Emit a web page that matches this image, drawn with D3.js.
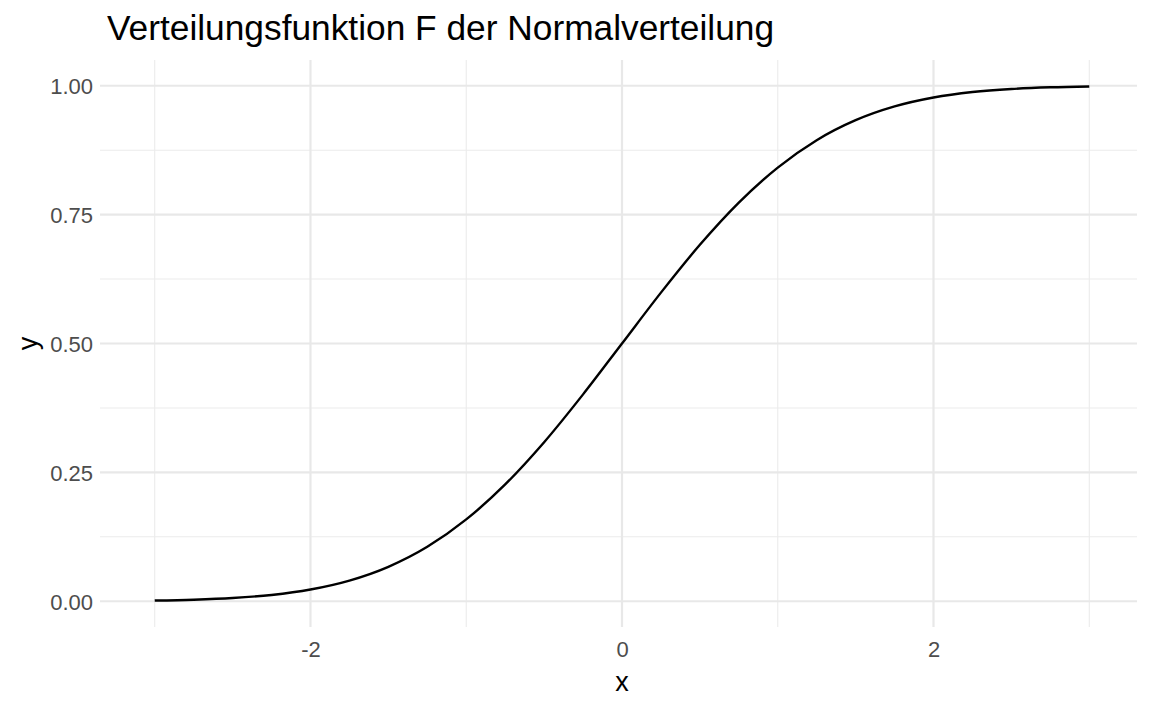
<!DOCTYPE html>
<meta charset="utf-8">
<head>
  <style>
    body { margin: 0; background: #fff; }
    text { font-family: "Liberation Sans", Arial, sans-serif; }
  </style>
</head>
<body>
<script src="https://cdnjs.cloudflare.com/ajax/libs/d3/7.8.5/d3.min.js"></script>
<script>

// Values
const xValues = [-3, -2.75, -2.5, -2.25, -2, -1.75, -1.5, -1.25, -1, -0.75, -0.5, -0.25,
  0, 0.25, 0.5, 0.75, 1, 1.25, 1.5, 1.75, 2, 2.25, 2.5, 2.75, 3];
const yValues = [0.0013, 0.003, 0.0062, 0.0122, 0.0228, 0.0401, 0.0668, 0.1056, 0.1587, 0.2266, 0.3085, 0.4013,
  0.5, 0.5987, 0.6915, 0.7734, 0.8413, 0.8944, 0.9332, 0.9599, 0.9772, 0.9878, 0.9938, 0.997, 0.9987];
const xTicks = [-2, 0, 2];
const xTickLabels = ["-2", "0", "2"];
const xMinor = [-3, -1, 1, 3];
const yTicks = [0, 0.25, 0.5, 0.75, 1];
const yTickLabels = ["0.00", "0.25", "0.50", "0.75", "1.00"];
const yMinor = [0.125, 0.375, 0.625, 0.875];

const title = "Verteilungsfunktion F der Normalverteilung";

const W = 1152, H = 711;
const panel = {left: 100, right: 1137, top: 60, bottom: 627};

const x = d3.scaleLinear().domain([-3.3, 3.3]).range([panel.left + 8, panel.right - 1]);
const y = d3.scaleLinear().domain([-0.05, 1.05]).range([panel.bottom, panel.top]);

const svg = d3.select("body").append("svg")
  .attr("width", W)
  .attr("height", H);

const data = xValues.map((d, i) => ({x: d, y: yValues[i]}));

// minor grid
svg.append("g").selectAll("line")
  .data(xMinor).join("line")
    .attr("x1", d => x(d)).attr("x2", d => x(d))
    .attr("y1", panel.top).attr("y2", panel.bottom)
    .attr("stroke", "#ebebeb").attr("stroke-width", 1.1);
svg.append("g").selectAll("line")
  .data(yMinor).join("line")
    .attr("x1", panel.left).attr("x2", panel.right)
    .attr("y1", d => y(d)).attr("y2", d => y(d))
    .attr("stroke", "#ebebeb").attr("stroke-width", 1.1);

// major grid
svg.append("g").selectAll("line")
  .data(xTicks).join("line")
    .attr("x1", d => x(d)).attr("x2", d => x(d))
    .attr("y1", panel.top).attr("y2", panel.bottom)
    .attr("stroke", "#e8e8e8").attr("stroke-width", 2.2);
svg.append("g").selectAll("line")
  .data(yTicks).join("line")
    .attr("x1", panel.left).attr("x2", panel.right)
    .attr("y1", d => y(d)).attr("y2", d => y(d))
    .attr("stroke", "#e8e8e8").attr("stroke-width", 2.2);

// axis labels
const xAxis = d3.axisBottom(x).tickValues(xTicks).tickSize(0).tickPadding(0)
  .tickFormat((d, i) => xTickLabels[i]);
const gx = svg.append("g")
  .attr("transform", "translate(0,657)")
  .call(xAxis);
gx.select(".domain").remove();
gx.selectAll("text")
  .attr("y", 0)
  .attr("dy", 0)
  .style("font-size", "22px")
  .attr("fill", "#4d4d4d");

const yAxis = d3.axisLeft(y).tickValues(yTicks).tickSize(0).tickPadding(0)
  .tickFormat((d, i) => yTickLabels[i]);
const gy = svg.append("g")
  .attr("transform", "translate(93,0)")
  .call(yAxis);
gy.select(".domain").remove();
gy.selectAll("text")
  .attr("x", 0)
  .attr("dy", "0.36em")
  .style("font-size", "22px")
  .attr("fill", "#4d4d4d");

// the curve
const line = d3.line()
  .x(d => x(d.x))
  .y(d => y(d.y))
  .curve(d3.curveMonotoneX);

svg.append("path")
  .datum(data)
  .attr("fill", "none")
  .attr("stroke", "#000")
  .attr("stroke-width", 2.4)
  .attr("d", line);

// titles
svg.append("text")
  .attr("x", 107).attr("y", 40)
  .style("font-size", "35.3px")
  .attr("fill", "#000")
  .text(title);

svg.append("text")
  .attr("x", x(0)).attr("y", 691)
  .attr("text-anchor", "middle")
  .style("font-size", "27px")
  .text("x");

svg.append("text")
  .attr("transform", "translate(37," + y(0.5) + ") rotate(-90)")
  .attr("text-anchor", "middle")
  .style("font-size", "27px")
  .text("y");

</script>
</body>
